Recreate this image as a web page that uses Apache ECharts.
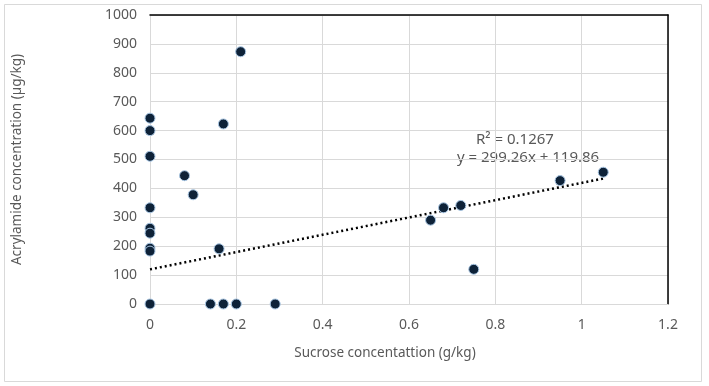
<!DOCTYPE html>
<html>
<head>
<meta charset="utf-8">
<script src="https://cdn.jsdelivr.net/npm/echarts@6/dist/echarts.min.js"></script>
<style>
  html, body { margin: 0; padding: 0; background: #fff; }
  #chart { width: 709px; height: 386px; }
</style>
</head>
<body>
<div id="chart"></div>
<script>
// sucrose (g/kg) vs acrylamide (µg/kg)
const sucrose = [0, 0, 0, 0, 0, 0, 0, 0, 0,
  0.08, 0.1, 0.17, 0.21, 0.16, 0.14, 0.17, 0.2, 0.29,
  0.65, 0.68, 0.72, 0.75, 0.95, 1.05]
const acrylamide = [643, 600, 511, 333, 262, 245, 193, 183, 0,
  444, 378, 623, 873, 191, 0, 0, 0, 0,
  290, 333, 341, 120, 427, 456]

// linear trendline endpoints, from the equation shown on the chart
const trendX = [0, 1.05]
const trendY = [119.86, 434.08]
const trendText = ['R² = 0.1267', 'y = 299.26x + 119.86']

const xTicks = { min: 0, max: 1.2, interval: 0.2 }
const yTicks = { min: 0, max: 1000, interval: 100 }

const FONT = 'Noto Sans'
const TEXT_GREY = '#595959'
const GRID_GREY = '#d9d9d9'

const points = sucrose.map((x, i) => [x, acrylamide[i]])
const trend = trendX.map((x, i) => [x, trendY[i]])

const chart = echarts.init(document.getElementById('chart'))

chart.setOption({
  animation: false,
  backgroundColor: '#fff',
  grid: { left: 150, right: 41, top: 15, bottom: 82 },
  xAxis: [
    {
      type: 'value',
      min: xTicks.min,
      max: xTicks.max,
      interval: xTicks.interval,
      name: 'Sucrose concentattion (g/kg)',
      nameLocation: 'middle',
      nameGap: 42,
      nameTextStyle: {
        color: TEXT_GREY, fontFamily: FONT, fontSize: 13.5, padding: [0, 48, 0, 0],
      },
      axisLine: { show: true, lineStyle: { color: GRID_GREY, width: 1 } },
      axisTick: { show: false },
      axisLabel: { color: TEXT_GREY, fontFamily: FONT, fontSize: 14, margin: 14 },
      splitLine: { show: true, lineStyle: { color: GRID_GREY, width: 1 } },
    },
    {
      // black frame along the top of the plot
      type: 'value',
      position: 'top',
      min: xTicks.min,
      max: xTicks.max,
      axisLine: { show: true, onZero: false, lineStyle: { color: '#000', width: 1.5 } },
      axisTick: { show: false },
      axisLabel: { show: false },
      splitLine: { show: false },
    },
  ],
  yAxis: [
    {
      type: 'value',
      min: yTicks.min,
      max: yTicks.max,
      interval: yTicks.interval,
      name: 'Acrylamide concentration (µg/kg)',
      nameLocation: 'middle',
      nameGap: 126,
      nameTextStyle: { color: TEXT_GREY, fontFamily: FONT, fontSize: 13.5 },
      axisLine: { show: true, lineStyle: { color: GRID_GREY, width: 1 } },
      axisTick: { show: false },
      axisLabel: {
        color: TEXT_GREY, fontFamily: FONT, fontSize: 14, margin: 13,
        formatter: v => String(v),
      },
      splitLine: { show: true, lineStyle: { color: GRID_GREY, width: 1 } },
    },
    {
      // black frame along the right of the plot
      type: 'value',
      position: 'right',
      min: yTicks.min,
      max: yTicks.max,
      axisLine: { show: true, onZero: false, lineStyle: { color: '#000', width: 1.5 } },
      axisTick: { show: false },
      axisLabel: { show: false },
      splitLine: { show: false },
    },
  ],
  series: [
    {
      type: 'line',
      data: trend,
      symbol: 'none',
      z: 3,
      lineStyle: { color: '#000', width: 2.5, type: [2, 3] },
    },
    {
      type: 'scatter',
      data: points,
      symbolSize: 10,
      z: 4,
      itemStyle: { color: '#0e2238', opacity: 1, borderColor: '#a9c7e4', borderWidth: 1 },
    },
  ],
  graphic: [
    {
      type: 'rect',
      left: 2,
      top: 2,
      shape: { width: 697, height: 377 },
      style: { fill: 'none', stroke: '#d9d9d9', lineWidth: 1 },
      silent: true,
    },
    {
      type: 'text',
      left: 476,
      top: 132,
      style: { text: trendText[0], fill: TEXT_GREY, font: `15px "${FONT}"` },
    },
    {
      type: 'text',
      left: 457,
      top: 150,
      style: { text: trendText[1], fill: TEXT_GREY, font: `15px "${FONT}"` },
    },
  ],
})
</script>
</body>
</html>
